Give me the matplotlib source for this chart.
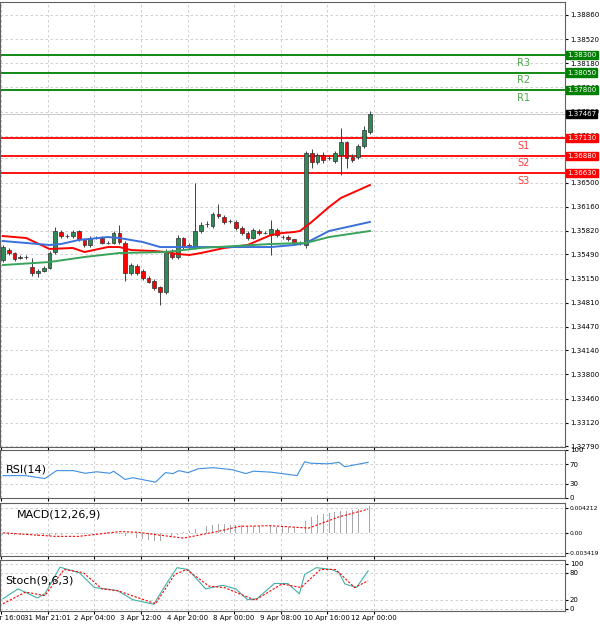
import numpy as np
import matplotlib
matplotlib.use("Agg")
import matplotlib.pyplot as plt
from matplotlib.transforms import blended_transform_factory as btf

opens = [1.35410,1.35551,1.35509,1.35439,1.35453,1.35312,1.35227,1.35256,1.35298,1.35523,
         1.35805,1.35748,1.35748,1.35819,1.35692,1.35622,1.35720,1.35720,1.35650,1.35650,
         1.35791,1.35650,1.35227,1.35326,1.35256,1.35157,1.35115,1.35030,1.34960,1.35509,
         1.35453,1.35720,1.35622,1.35593,1.35819,1.35917,1.35889,1.36058,1.36016,1.35960,
         1.35946,1.35861,1.35791,1.35720,1.35819,1.35791,1.35762,1.35833,1.35734,1.35734,
         1.35706,1.35650,1.35622,1.36917,1.36790,1.36889,1.36847,1.36804,1.36889,1.37072,
         1.36861,1.36861,1.37016,1.37213]
closes = [1.35593,1.35509,1.35425,1.35453,1.35453,1.35227,1.35256,1.35298,1.35509,1.35819,
          1.35748,1.35748,1.35805,1.35706,1.35622,1.35720,1.35720,1.35650,1.35650,1.35791,
          1.35664,1.35227,1.35340,1.35227,1.35157,1.35101,1.35016,1.34960,1.35523,1.35453,
          1.35720,1.35593,1.35593,1.35819,1.35903,1.35917,1.36058,1.36030,1.35946,1.35960,
          1.35861,1.35791,1.35720,1.35833,1.35791,1.35791,1.35847,1.35762,1.35734,1.35706,
          1.35650,1.35650,1.36917,1.36790,1.36889,1.36818,1.36847,1.36917,1.37072,1.36847,
          1.36818,1.37016,1.37241,1.37467]
highs = [1.35620,1.35580,1.35530,1.35480,1.35480,1.35440,1.35280,1.35330,1.35540,1.35875,
         1.35840,1.35780,1.35830,1.35840,1.35720,1.35750,1.35750,1.35750,1.35680,1.35820,
         1.35903,1.35680,1.35370,1.35350,1.35280,1.35180,1.35140,1.35050,1.35560,1.35560,
         1.35760,1.35740,1.35650,1.36495,1.35950,1.35960,1.36090,1.36200,1.36040,1.35990,
         1.35970,1.35890,1.35820,1.35860,1.35850,1.35820,1.35974,1.35860,1.35760,1.35760,
         1.35700,1.35680,1.36950,1.36970,1.36920,1.36930,1.36880,1.36950,1.37269,1.37090,
         1.36900,1.37040,1.37300,1.37508]
lows = [1.35380,1.35480,1.35400,1.35420,1.35430,1.35190,1.35170,1.35240,1.35280,1.35490,
        1.35720,1.35720,1.35720,1.35680,1.35600,1.35600,1.35700,1.35630,1.35630,1.35630,
        1.35630,1.35115,1.35200,1.35200,1.35130,1.35080,1.34990,1.34777,1.34930,1.35420,
        1.35430,1.35560,1.35560,1.35570,1.35790,1.35880,1.35860,1.36000,1.35920,1.35930,
        1.35830,1.35760,1.35690,1.35700,1.35760,1.35770,1.35481,1.35730,1.35700,1.35680,
        1.35620,1.35620,1.35580,1.36700,1.36760,1.36780,1.36820,1.36770,1.36607,1.36700,
        1.36790,1.36830,1.36990,1.37190]

ma_red_x = [0,4,8,12,14,18,20,22,26,28,30,32,34,38,42,46,48,50,51,53,56,58,63]
ma_red_y = [1.35748,1.35720,1.35566,1.35580,1.35523,1.35593,1.35593,1.35551,1.35537,1.35523,
            1.35495,1.35481,1.35509,1.35580,1.35622,1.35762,1.35791,1.35805,1.35819,1.35946,
            1.36157,1.36283,1.36466]
ma_blue_x = [0,8,10,13,18,20,24,27,30,40,46,50,52,56,63]
ma_blue_y = [1.35678,1.35622,1.35636,1.35692,1.35734,1.35720,1.35664,1.35593,1.35593,1.35593,
             1.35593,1.35622,1.35650,1.35819,1.35946]
ma_green_x = [0,8,14,20,28,34,40,46,52,56,63]
ma_green_y = [1.35340,1.35382,1.35453,1.35509,1.35523,1.35580,1.35608,1.35636,1.35650,1.35734,1.35819]

levels = [("R3",1.38300,"g"),("R2",1.38050,"g"),("R1",1.37800,"g"),
          ("S1",1.37130,"r"),("S2",1.36880,"r"),("S3",1.36630,"r")]
price_ticks = [1.38860,1.38520,1.38180,1.37840,1.37500,1.37160,1.36840,1.36500,1.36160,
               1.35820,1.35490,1.35150,1.34810,1.34470,1.34140,1.33800,1.33460,1.33120,1.32790]

rsi_x = [0,3.9,7.2,9.2,12.1,14.1,16.1,18.4,19,21,22.3,26.2,27.9,29.2,30.2,31.8,33.5,36.1,39.4,
         41.7,43,45.9,47.9,50.5,51.8,52.8,55.8,57.7,58.7,62.7]
rsi_y = [46.6,46.6,40.5,57,57,51.5,54.6,51.5,55.8,38.6,42.3,33,52.8,50.9,57,52.8,60.8,63.2,58.9,
         50.9,55.8,54,50.9,46.6,75.5,72.5,71.2,74.3,65.1,74.3]

macd_hist = [-0.0003,-0.0003,-0.0003,-0.0003,-0.0004,-0.0004,-0.0005,-0.0005,-0.0005,-0.0004,
             -0.0003,-0.0003,-0.0002,-0.0002,-0.0002,-0.0001,-0.0001,0.0000,0.0001,0.0001,
             -0.0002,-0.0005,-0.0007,-0.0009,-0.0011,-0.0012,-0.0013,-0.0013,-0.0008,-0.0006,
             -0.0003,0.0001,0.0003,0.0006,0.0009,0.0011,0.0013,0.0015,0.0015,0.0014,
             0.0014,0.0013,0.0012,0.0012,0.0012,0.0011,0.0011,0.0010,0.0010,0.0009,
             0.0009,0.0008,0.0020,0.0027,0.0030,0.0032,0.0033,0.0035,0.0037,0.0037,
             0.0038,0.0040,0.0043,0.0045]
sig_x = [0,9,13,20,23,31,36.7,40.7,46,52.5,57.7,62.7]
sig_y = [0.0,-0.0006,-0.0006,0.0002,0.0001,-0.0009,0.0002,0.0011,0.0012,0.0008,0.0027,0.0040]

st_x = [0,2.6,5.9,7.2,9.8,13.1,15.7,17.7,19.7,22.3,25.9,28.2,29.9,31.8,34.8,37.7,40,42,43.6,
        46.6,48.9,50.9,51.8,53.8,56.4,57.7,58.7,60.7,62.7]
st_y = [22,44,24,33,92,80,47,44,40,20,10,58,91,87,44,52,44,20,22,56,56,33,76,91,87,80,55,47,84]
sts_x = [0,3.9,7.2,10.5,13.8,17,19.7,26.2,29.5,31.5,35.4,38,43.3,47.9,51.2,54.5,57.1,60.4,62.7]
sts_y = [11,37,29,87,80,44,40,11,76,87,50,47,19,55,47,87,87,47,62]

xt_pos = [-0.3,7.7,15.7,23.7,31.7,39.7,47.7,55.7,63.7]
xt_lab = ["30 Mar 16:00","31 Mar 21:01","2 Apr 04:00","3 Apr 12:00","4 Apr 20:00",
          "8 Apr 00:00","9 Apr 08:00","10 Apr 16:00","12 Apr 00:00"]

GREEN = "#008000"; RED = "#ff0000"
FS = 5
fig = plt.figure(figsize=(6, 6.25), dpi=100)
W = 565/600
ax = fig.add_axes([0, 1-447/625, W, 445/625])
a1 = fig.add_axes([0, 1-498/625, W, 48/625])
a2 = fig.add_axes([0, 1-556/625, W, 53/625])
a3 = fig.add_axes([0, 1-611/625, W, 51/625])
XL = (-0.5, 96.5)

def style(a):
    a.set_xlim(*XL)
    a.yaxis.tick_right()
    a.tick_params(axis="y", labelsize=FS, length=2, pad=1.5)
    a.set_xticks(xt_pos)
    a.tick_params(axis="x", length=2)
    a.set_xticklabels([])
    a.grid(True, ls=(0, (3, 3)), color="#c8c8c8", lw=0.6)
    for s in a.spines.values():
        s.set_color("#606060")

for a in (ax, a1, a2, a3):
    style(a)

# main
ax.set_ylim(1.32778, 1.39043)
ax.set_yticks(price_ticks)
ax.set_yticklabels([f"{t:.5f}" for t in price_ticks])
idx = np.arange(len(opens))
for i in idx:
    o, c = opens[i], closes[i]
    up = c >= o
    ax.vlines(i, lows[i], highs[i], color="#404040", lw=0.7, zorder=3)
    h = max(abs(c - o), 0.00004)
    ax.bar(i, h, bottom=min(o, c), width=0.65, color="#2e8b57" if up else RED,
           edgecolor="#303030", lw=0.5, zorder=4)
ax.plot(ma_red_x, ma_red_y, color=RED, lw=1.4, zorder=5)
ax.plot(ma_blue_x, ma_blue_y, color="#3a6fdc", lw=1.4, zorder=5)
ax.plot(ma_green_x, ma_green_y, color="#3aa35a", lw=1.4, zorder=5)
tr = btf(ax.transAxes, ax.transData)
for name, val, col in levels:
    c = GREEN if col == "g" else RED
    ax.axhline(val, color=c, lw=1.3, zorder=2)
    ax.text(0.915, val - 0.0004, name, transform=tr, color=("#4aa84a" if col == "g" else "#ff4040"),
            fontsize=7, va="top", ha="left")
    ax.text(1.004, val, f"{val:.5f}", transform=tr, fontsize=FS, color="white", va="center",
            ha="left", clip_on=False, bbox=dict(boxstyle="square,pad=0.15", fc=c, ec=c), zorder=10)
ax.axhline(closes[-1], color="#c0c0c0", lw=0.6)
ax.text(1.004, closes[-1], f"{closes[-1]:.5f}", transform=tr, fontsize=FS, color="white",
        va="center", ha="left", clip_on=False,
        bbox=dict(boxstyle="square,pad=0.15", fc="black", ec="black"), zorder=10)

# RSI
a1.set_ylim(0, 100)
a1.set_yticks([0, 30, 70, 100])
a1.plot(rsi_x, rsi_y, color="#3d8fe0", lw=0.8)
a1.text(0.01, 0.6, "RSI(14)", transform=a1.transAxes, fontsize=8, va="center")

# MACD
a2.set_ylim(-0.00392, 0.00504)
a2.set_yticks([-0.003419, 0.0, 0.004212])
a2.set_yticklabels(["-0.003419", "0.00", "0.004212"])
a2.tick_params(axis="y", labelsize=4.3, pad=1)
a2.bar(idx, macd_hist, width=0.15, color="#a8a8a8")
a2.plot(sig_x, sig_y, color=RED, lw=0.8, ls=(0, (2, 1.5)))
a2.text(0.03, 0.78, "MACD(12,26,9)", transform=a2.transAxes, fontsize=8, va="center")

# Stoch
a3.set_ylim(-5, 108)
a3.set_yticks([0, 20, 80, 100])
a3.plot(st_x, st_y, color="#40b0a8", lw=0.8)
a3.plot(sts_x, sts_y, color=RED, lw=0.8, ls=(0, (2, 1.5)))
a3.text(0.01, 0.6, "Stoch(9,6,3)", transform=a3.transAxes, fontsize=8, va="center")
a3.set_xticklabels(xt_lab, fontsize=FS)
a3.tick_params(axis="x", pad=1)

fig.savefig("out.png", dpi=100)
